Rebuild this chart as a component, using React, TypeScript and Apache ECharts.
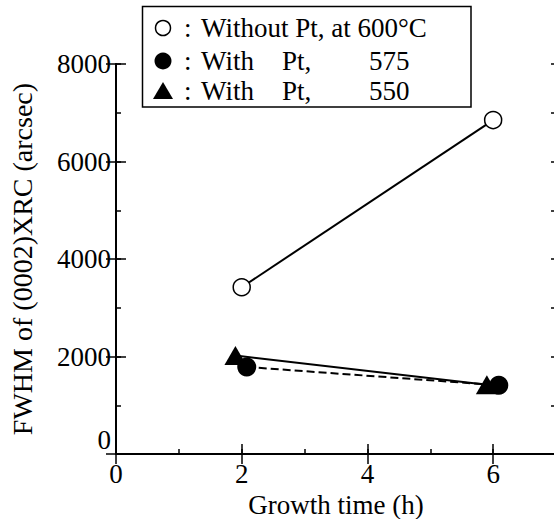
import React, { useEffect, useRef } from "react";
import * as echarts from "echarts";

const xTicks = [0, 2, 4, 6];
const withoutPt600 = [
  [2.0, 3420],
  [6.0, 6850],
];
const withPt575 = [
  [2.08, 1785],
  [6.09, 1410],
];
const withPt550 = [
  [1.9, 2020],
  [5.9, 1420],
];
const legendRows = [
  { mark: "open", a: "Without Pt, at 600°C", b: "", c: "" },
  { mark: "filled", a: "With", b: "Pt,", c: "575" },
  { mark: "triangle", a: "With", b: "Pt,", c: "550" },
];

const FONT = "serif";

function buildOption() {
  const mkLine = () => ({ show: true, lineStyle: { color: "#000", width: 2 } });
  const mkTick = (len: number) => ({ show: true, inside: true, length: len, lineStyle: { color: "#000", width: 1.5 } });
  const rowY = [28, 61, 91];
  const graphics: any[] = [
    {
      type: "rect",
      shape: { x: 142.5, y: 6.5, width: 328.5, height: 100.5 },
      style: { fill: "#fff", stroke: "#000", lineWidth: 1.5 },
      z: 100,
    },
  ];
  const txt = (x: number, y: number, text: string) => ({
    type: "text", x, y, z: 101,
    style: { text, fontFamily: FONT, fontSize: 27, fill: "#000", verticalAlign: "middle" },
  });
  legendRows.forEach((r, i) => {
    const y = rowY[i];
    if (r.mark === "open") {
      graphics.push({ type: "circle", shape: { cx: 163, cy: y, r: 7.5 }, style: { fill: "#fff", stroke: "#000", lineWidth: 1.5 }, z: 101 });
    } else if (r.mark === "filled") {
      graphics.push({ type: "circle", shape: { cx: 163, cy: y, r: 8.5 }, style: { fill: "#000" }, z: 101 });
    } else {
      graphics.push({ type: "polygon", shape: { points: [[163, y - 9], [153, y + 8], [173, y + 8]] }, style: { fill: "#000" }, z: 101 });
    }
    graphics.push(txt(184, y, ":"));
    graphics.push(txt(201, y, r.a));
    if (r.b) graphics.push(txt(282, y, r.b));
    if (r.c) graphics.push(txt(369, y, r.c));
  });
  const option: any = {
    animation: false,
    backgroundColor: "#fff",
    textStyle: { fontFamily: FONT },
    grid: { left: 116, top: 64, right: -2, bottom: 65, containLabel: false, outerBoundsMode: "none" },
    xAxis: [
      {
        type: "value", min: 0, max: 7, interval: 1, position: "bottom",
        name: "Growth time (h)", nameLocation: "middle", nameGap: 30,
        nameTextStyle: { fontFamily: FONT, fontSize: 27, color: "#000" },
        axisLine: mkLine(), splitLine: { show: false },
        axisTick: mkTick(5),
        axisLabel: {
          fontFamily: FONT, fontSize: 27, color: "#000", margin: 6,
          formatter: (v: number) => (xTicks.includes(v) ? String(v) : ""),
        },
      },
      {
        type: "value", min: 0, max: 7, interval: 2, position: "bottom",
        axisLine: { show: false }, splitLine: { show: false }, axisLabel: { show: false },
        axisTick: mkTick(10),
      },
      {
        type: "value", min: 0, max: 7, interval: 2, position: "top",
        axisLine: mkLine(), splitLine: { show: false }, axisLabel: { show: false },
        axisTick: mkTick(10),
      },
    ],
    yAxis: [
      {
        type: "value", min: 0, max: 8000, interval: 2000, position: "left",
        name: "FWHM of (0002)XRC (arcsec)", nameLocation: "middle", nameGap: 80,
        nameTextStyle: { fontFamily: FONT, fontSize: 28, color: "#000" },
        axisLine: mkLine(), splitLine: { show: false },
        axisTick: mkTick(10),
        axisLabel: {
          fontFamily: FONT, fontSize: 27, color: "#000", margin: 5,
          formatter: (v: number) => (v === 0 ? "" : String(v)),
        },
      },
      {
        type: "value", min: 0, max: 8000, interval: 1000, position: "left",
        axisLine: { show: false }, splitLine: { show: false }, axisLabel: { show: false },
        axisTick: mkTick(5),
      },
      {
        type: "value", min: 0, max: 8000, interval: 2000, position: "right",
        axisLine: mkLine(), splitLine: { show: false }, axisLabel: { show: false },
        axisTick: mkTick(10),
      },
      {
        type: "value", min: 0, max: 8000, interval: 1000, position: "right",
        axisLine: { show: false }, splitLine: { show: false }, axisLabel: { show: false },
        axisTick: mkTick(5),
      },
    ],
    series: [
      {
        type: "line", data: withoutPt600, symbol: "circle", symbolSize: 17,
        lineStyle: { color: "#000", width: 2 },
        itemStyle: { color: "#fff", borderColor: "#000", borderWidth: 1.5 }, z: 3,
      },
      {
        type: "line", data: withPt575, symbol: "circle", symbolSize: 19,
        lineStyle: { color: "#000", width: 2, type: "dashed" },
        itemStyle: { color: "#000" }, z: 3,
      },
      {
        type: "line", data: withPt550, symbol: "triangle", symbolSize: [22, 19],
        lineStyle: { color: "#000", width: 2 },
        itemStyle: { color: "#000" }, z: 3,
      },
    ],
    graphic: graphics,
  };
  return { option, graphics };
}

function Chart() {
  const ref = useRef<HTMLDivElement>(null);
  useEffect(() => {
    const chart = echarts.init(ref.current!, null, { renderer: "svg" });
    const { option, graphics } = buildOption();
    chart.setOption(option);
    const zero = chart.convertToPixel({ xAxisIndex: 0, yAxisIndex: 0 }, [0, 0]) as number[];
    if (zero) {
      graphics.push({
        type: "text", x: zero[0] - 5, y: zero[1] - 14, z: 101,
        style: { text: "0", fontFamily: FONT, fontSize: 27, fill: "#000", align: "right", verticalAlign: "middle" },
      });
      chart.setOption({ graphic: graphics });
    }
    return () => chart.dispose();
  }, []);
  return <div ref={ref} style={{ width: 554, height: 519 }} />;
}

export default function App() {
  useEffect(() => {
    document.body.style.margin = "0";
  }, []);
  return (
    <div>
      <Chart />
    </div>
  );
}
